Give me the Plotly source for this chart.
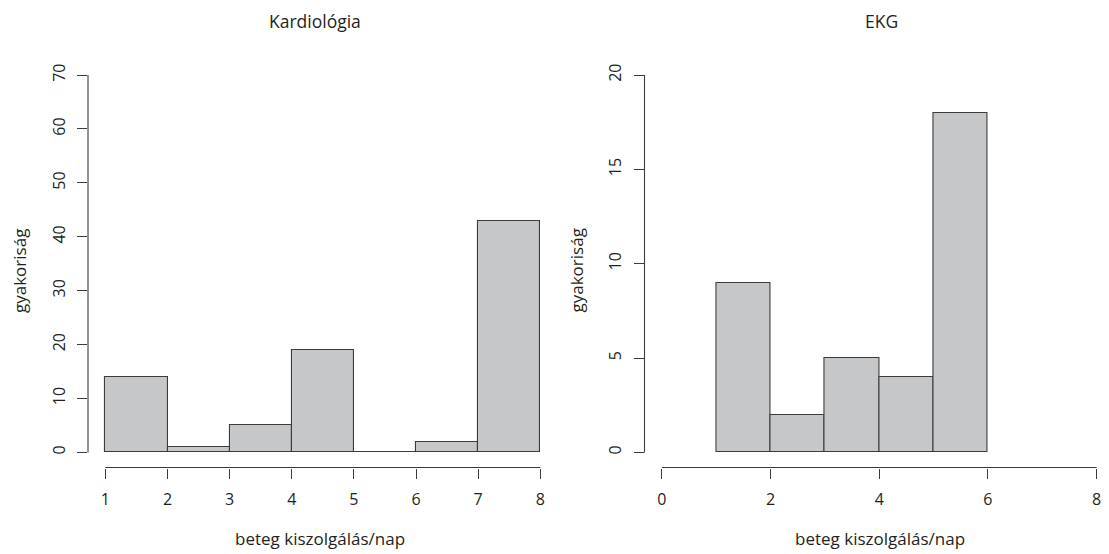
import plotly.graph_objects as go

# ---- data ----
kardio_edges = [1, 2, 3, 4, 5, 6, 7, 8]
kardio_counts = [14, 1, 5, 19, 0, 2, 43]
kardio_xticks = [1, 2, 3, 4, 5, 6, 7, 8]
kardio_yticks = [0, 10, 20, 30, 40, 50, 60, 70]

ekg_edges = [1, 2, 3, 4, 5, 6]
ekg_counts = [9, 2, 5, 4, 18]
ekg_xticks = [0, 2, 4, 6, 8]
ekg_yticks = [0, 5, 10, 15, 20]

titles = ["Kardiológia", "EKG"]
xlabel = "beteg kiszolgálás/nap"
ylabel = "gyakoriság"

# page body has an 8px margin; lay out in screen pixels and shift
OFF = 8
W, H = 1109 - OFF, 554 - OFF
FONT = "Open Sans"
TXT = "#231f20"
LINE = "#3c3c3c"
FILL = "#c6c7c9"


def px_x(p):
    return (p - OFF) / W


def px_y(p):
    return 1 - (p - OFF) / H


def mids(edges):
    return [(a + b) / 2 for a, b in zip(edges[:-1], edges[1:])]


def widths(edges):
    return [b - a for a, b in zip(edges[:-1], edges[1:])]


def ext(ticks):
    lo, hi = min(ticks), max(ticks)
    d = 0.04 * (hi - lo)
    return [lo - d, hi + d]


fig = go.Figure()
fig.add_trace(go.Bar(x=mids(kardio_edges), y=kardio_counts, width=widths(kardio_edges),
                     marker=dict(color=FILL, line=dict(color=LINE, width=1.1)),
                     xaxis="x", yaxis="y", showlegend=False, hoverinfo="x+y"))
fig.add_trace(go.Bar(x=mids(ekg_edges), y=ekg_counts, width=widths(ekg_edges),
                     marker=dict(color=FILL, line=dict(color=LINE, width=1.1)),
                     xaxis="x2", yaxis="y2", showlegend=False, hoverinfo="x+y"))

ydom = [px_y(467.5), px_y(60)]
x1dom = [px_x(88), px_x(557.7)]
x2dom = [px_x(644.5), 1.0]

r2 = ext(ekg_xticks)
span_px = 1114.0 - 644.5
r2_hi = r2[0] + (r2[1] - r2[0]) * (1109 - 644.5) / span_px

axis_common = dict(showgrid=False, zeroline=False, showline=False, ticks="outside",
                   ticklen=10, tickwidth=1, tickcolor=LINE, ticklabeloverflow="allow",
                   tickfont=dict(family=FONT, size=16, color=TXT))

fig.update_layout(
    width=W, height=H, margin=dict(l=0, r=0, t=0, b=0),
    paper_bgcolor="white", plot_bgcolor="white", bargap=0,
    xaxis=dict(domain=x1dom, range=ext(kardio_xticks), tickvals=kardio_xticks,
               anchor="y", ticklabelstandoff=7, **axis_common),
    yaxis=dict(domain=ydom, range=ext(kardio_yticks), tickvals=kardio_yticks,
               anchor="x", tickangle=-90, ticklabelstandoff=6, **axis_common),
    xaxis2=dict(domain=x2dom, range=[r2[0], r2_hi], tickvals=ekg_xticks,
                anchor="y2", ticklabelstandoff=7, **axis_common),
    yaxis2=dict(domain=ydom, range=ext(ekg_yticks), tickvals=ekg_yticks,
                anchor="x2", tickangle=-90, ticklabelstandoff=6, **axis_common),
)

# R-style axis lines spanning only the tick range
for xr, yr, xt, yt in [("x", "y", kardio_xticks, kardio_yticks),
                       ("x2", "y2", ekg_xticks, ekg_yticks)]:
    fig.add_shape(type="line", xref=xr, yref=yr + " domain",
                  x0=min(xt), x1=max(xt), y0=0, y1=0,
                  line=dict(color=LINE, width=1.1))
    fig.add_shape(type="line", xref=xr + " domain", yref=yr,
                  x0=0, x1=0, y0=min(yt), y1=max(yt),
                  line=dict(color=LINE, width=1.1))

ann = []
for t, cx in zip(titles, [314.7, 881.5]):
    ann.append(dict(text=t, x=px_x(cx), y=px_y(21), xref="paper", yref="paper",
                    showarrow=False, xanchor="center", yanchor="middle",
                    font=dict(family=FONT, size=17.5, color=TXT)))
for cx in [319.5, 880.3]:
    ann.append(dict(text=xlabel, x=px_x(cx), y=px_y(538), xref="paper", yref="paper",
                    showarrow=False, xanchor="center", yanchor="middle",
                    font=dict(family=FONT, size=17, color=TXT)))
for cx in [19, 575.5]:
    ann.append(dict(text=ylabel, x=px_x(cx), y=px_y(271), xref="paper", yref="paper",
                    showarrow=False, xanchor="center", yanchor="middle", textangle=-90,
                    font=dict(family=FONT, size=17, color=TXT)))
fig.update_layout(annotations=ann)

fig.write_html("out.html")
